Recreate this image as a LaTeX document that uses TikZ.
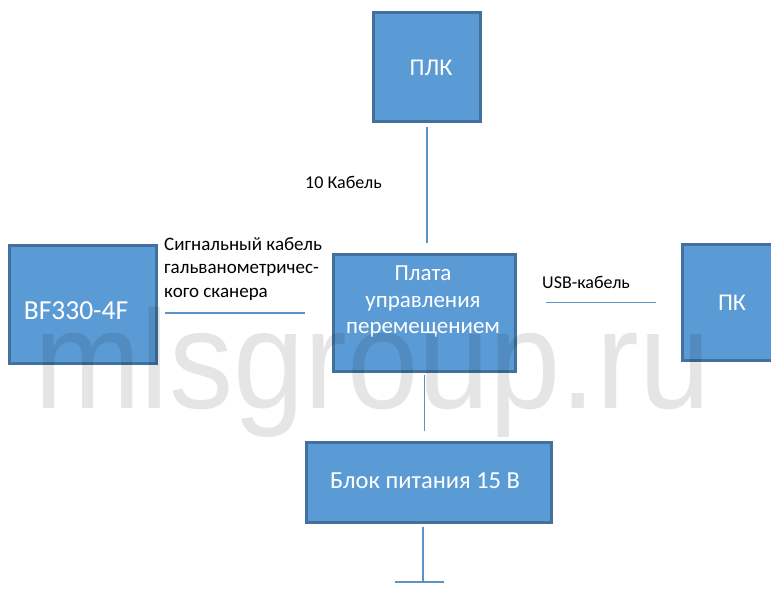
\documentclass[tikz,border=0pt]{standalone}
\usepackage{fontspec}
\setmainfont{Carlito}
\newfontfamily\wmfont{Liberation Sans}
\definecolor{boxfill}{HTML}{5B9BD5}
\definecolor{boxline}{HTML}{41719C}
\definecolor{wirec}{HTML}{5B93C8}
\begin{document}
\begin{tikzpicture}[x=1pt,y=-1pt,
  blk/.style={draw=boxline, fill=boxfill, line width=2.5pt, inner sep=0pt, anchor=north west},
  btxt/.style={text=white, font=\fontsize{24}{27}\selectfont, align=center, inner sep=0pt},
  lbl/.style={font=\fontsize{18}{23.5}\selectfont, align=left, inner sep=0pt, text=black},
  wire/.style={draw=wirec, line width=1.5pt}]
\useasboundingbox (0,0) rectangle (771,589);
\clip (0,0) rectangle (771,589);
\fill[white] (0,0) rectangle (771,589);
% boxes
\node[blk, minimum width=107pt, minimum height=109pt] (plk) at (372,11) {};
\node[blk, minimum width=147pt, minimum height=118pt] (bf) at (8,244) {};
\node[blk, minimum width=182pt, minimum height=117pt] (ctrl) at (332,253) {};
\node[blk, minimum width=120pt, minimum height=116pt] (pk) at (681,243) {};
\node[blk, minimum width=245pt, minimum height=80pt] (psu) at (305,441) {};
% box texts
\node[btxt] (plkt) at (431,68) {ПЛК};
\node[btxt, font=\fontsize{27.5}{30}\selectfont] (bft) at (76,311) {BF330-4F};
\node[btxt, font=\fontsize{23}{26.5}\selectfont] (ctrlt) at (423,302) {Плата\\управления\\перемещением};
\node[btxt] (pkt) at (732,303) {ПК};
\node[btxt, font=\fontsize{24.5}{27}\selectfont] (psut) at (425,481) {Блок питания 15 В};
% labels
\node[lbl, anchor=west] (l10) at (305,182) {10 Кабель};
\node[lbl, anchor=west, font=\fontsize{19}{23.5}\selectfont] (lsig) at (164,269) {Сигнальный кабель\\гальванометричес-\\кого сканера};
\node[lbl, anchor=west] (lusb) at (542,282) {USB-кабель};
% connectors
\draw[wire, shorten <=4pt, shorten >=10pt] (plk.south) -- (plk.south |- ctrl.north);
\draw[wire, shorten <=7pt, shorten >=27pt] (bf.east |- ctrl.west) -- (ctrl.west);
\draw[wire, shorten <=29pt, shorten >=25pt] (ctrl.east |- pk.west) -- (pk.west);
\draw[wire, shorten <=2pt, shorten >=10pt] (ctrl.south) -- (ctrl.south |- psu.north);
\coordinate (gnd) at (423,582);
\draw[wire, shorten <=3pt] (gnd |- psu.south) -- (gnd);
\draw[wire] ([xshift=-28pt]gnd) -- ([xshift=21pt]gnd);
% watermark
\node[anchor=base west, inner sep=0pt, text=black, text opacity=0.1,
  font=\wmfont\fontsize{140}{140}\selectfont] (wm) at (34,408)
  {\scalebox{0.915}[1]{mlsgroup.ru}};
\end{tikzpicture}
\end{document}
